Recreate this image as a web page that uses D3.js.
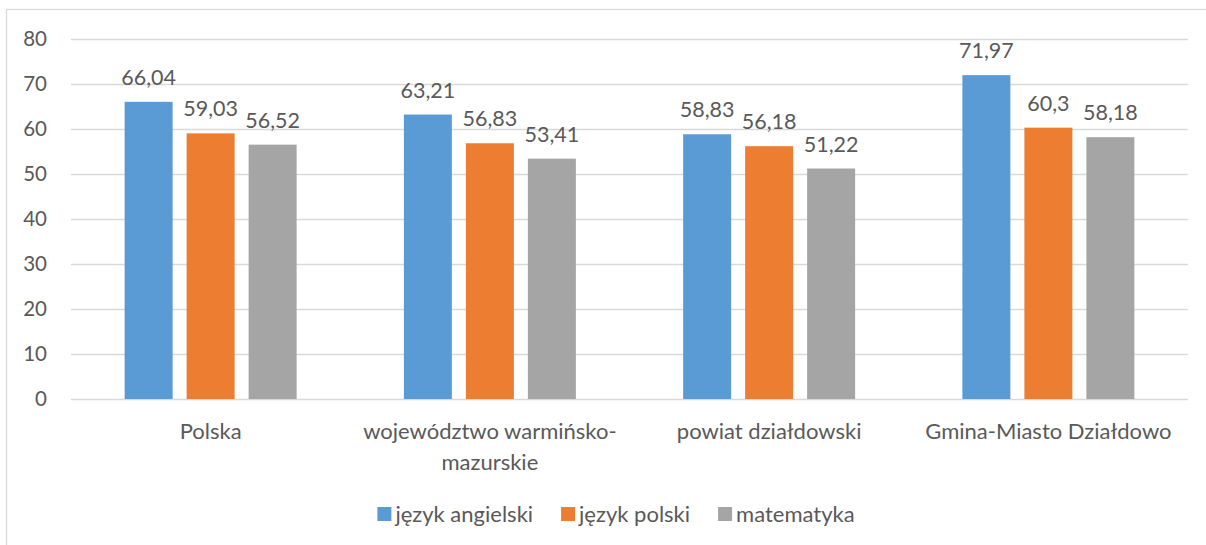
<!DOCTYPE html>
<html><head><meta charset="utf-8">
<script src="https://cdn.jsdelivr.net/npm/d3@7"></script>
<style>
html,body{margin:0;padding:0;background:#fff;}
svg text{font-family:Lato,"Noto Sans",sans-serif;fill:#595959;}
</style></head>
<body>
<svg id="chart" width="1206" height="545"></svg>
<script>
const categories = [["Polska"], ["województwo warmińsko-", "mazurskie"], ["powiat działdowski"], ["Gmina-Miasto Działdowo"]];
const seriesNames = ["język angielski", "język polski", "matematyka"];
const angielski = [66.04, 63.21, 58.83, 71.97];
const polski = [59.03, 56.83, 56.18, 60.3];
const matematyka = [56.52, 53.41, 51.22, 58.18];
const yTicks = [0, 10, 20, 30, 40, 50, 60, 70, 80];
const colors = ["#5B9BD5", "#ED7D31", "#A5A5A5"];

(function () {
const series = [angielski, polski, matematyka];
const svg = d3.select("#chart");
const pLeft = 71, pRight = 1188, pTop = 39, pBottom = 399;

// chart frame
svg.append("rect").attr("x", 6.5).attr("y", 9.5).attr("width", 1300).attr("height", 600)
  .attr("fill", "none").attr("stroke", "#D9D9D9").attr("stroke-width", 1.3);

const x0 = d3.scaleBand().domain(d3.range(categories.length)).range([pLeft, pRight]).paddingInner(0).paddingOuter(0);
const y = d3.scaleLinear().domain([0, 80]).range([pBottom, pTop]);

// gridlines
svg.append("g").selectAll("line").data(yTicks).join("line")
  .attr("x1", pLeft).attr("x2", pRight)
  .attr("y1", d => Math.round(y(d)) + 0.5).attr("y2", d => Math.round(y(d)) + 0.5)
  .attr("stroke", "#D9D9D9").attr("stroke-width", 1.3);

// y axis labels
svg.append("g").selectAll("text").data(yTicks).join("text")
  .attr("x", 47).attr("y", d => y(d)).attr("dy", "0.35em")
  .attr("text-anchor", "end").attr("font-size", 20.5).text(d => d);

const barW = 48, step = 62;
const x1 = d3.scaleBand().domain(d3.range(3)).range([-(step * 3) / 2, (step * 3) / 2]);
const fmt = v => String(v).replace(".", ",");

series.forEach((vals, si) => {
  const g = svg.append("g");
  g.selectAll("rect").data(vals).join("rect")
    .attr("x", (d, i) => x0(i) + x0.bandwidth() / 2 + x1(si) + (step - barW) / 2)
    .attr("y", d => y(d))
    .attr("width", barW)
    .attr("height", d => y(0) - y(d))
    .attr("fill", colors[si]);
  g.selectAll("text").data(vals).join("text")
    .attr("x", (d, i) => x0(i) + x0.bandwidth() / 2 + x1(si) + step / 2)
    .attr("y", d => y(d) - 17)
    .attr("text-anchor", "middle").attr("font-size", 21.5)
    .text(d => fmt(d));
});

// category labels
const cat = svg.append("g").selectAll("text").data(categories).join("text")
  .attr("text-anchor", "middle").attr("font-size", 22);
cat.each(function(lines, i) {
  const t = d3.select(this);
  lines.forEach((ln, k) => {
    t.append("tspan").attr("x", x0(i) + x0.bandwidth() / 2)
      .attr("y", 439 + k * 31).text(ln);
  });
});

// legend
const lg = svg.append("g");
const items = lg.selectAll("g").data(seriesNames).join("g");
items.append("rect").attr("width", 14).attr("height", 14).attr("y", 507)
  .attr("fill", (d, i) => colors[i]);
items.append("text").attr("x", 18).attr("y", 522).attr("font-size", 22).text(d => d);
const widths = [];
items.each(function() { widths.push(18 + d3.select(this).select("text").node().getComputedTextLength()); });
const gap = 28;
const total = d3.sum(widths) + gap * (widths.length - 1);
let cx = 616 - total / 2;
items.each(function(d, i) { d3.select(this).attr("transform", `translate(${cx},0)`); cx += widths[i] + gap; });
})();
</script>
</body></html>
